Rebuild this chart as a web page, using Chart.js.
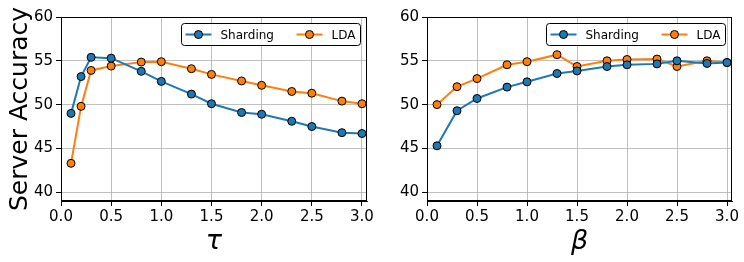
<!DOCTYPE html>
<html><head><meta charset="utf-8">
<script src="https://cdn.jsdelivr.net/npm/chart.js@4"></script>
<style>
html,body{margin:0;padding:0;background:#fff;width:744px;height:262px;overflow:hidden;position:relative}
.w{position:absolute;top:0;height:262px}
#a{left:0;width:379px}#b{left:372px;width:372px}
canvas{display:block}
</style></head><body>
<div class="w" id="a"><canvas id="c1" width="379" height="262"></canvas></div>
<div class="w" id="b"><canvas id="c2" width="372" height="262"></canvas></div>
<script>
const xTau=[0.1,0.2,0.3,0.5,0.8,1.0,1.3,1.5,1.8,2.0,2.3,2.5,2.8,3.0];
const shardingTau=[49.0,53.2,55.4,55.3,53.8,52.65,51.2,50.1,49.1,48.9,48.1,47.5,46.8,46.7];
const ldaTau=[43.3,49.8,53.9,54.4,54.85,54.9,54.1,53.45,52.7,52.2,51.5,51.3,50.4,50.1];
const xBeta=[0.1,0.3,0.5,0.8,1.0,1.3,1.5,1.8,2.0,2.3,2.5,2.8,3.0];
const shardingBeta=[45.3,49.3,50.7,52.0,52.6,53.55,53.85,54.35,54.55,54.65,55.0,54.7,54.8];
const ldaBeta=[50.0,52.05,52.97,54.55,54.9,55.7,54.35,55.0,55.15,55.2,54.35,55.0,54.8];
const xTicks=[0,0.5,1,1.5,2,2.5,3];
const yTicks=[40,45,50,55,60];
const seriesNames=['Sharding','LDA'];
const colors=['#1f77b4','#ff7f0e'];
const yTitle='Server Accuracy';

const FONT='DejaVu Sans';

const framePlugin={
  id:'frame',
  afterDatasetsDraw(chart){
    const a=chart.chartArea, c=chart.ctx;
    c.save();
    c.strokeStyle='#000';c.lineWidth=1;
    c.strokeRect(Math.round(a.left)+0.5,Math.round(a.top)+0.5,Math.round(a.right-a.left)-1,Math.round(a.bottom-a.top)-1);
    c.restore();
  }
};
const legendPlugin={
  id:'boxLegend',
  afterDraw(chart){
    const a=chart.chartArea, c=chart.ctx;
    const w=179,h=22;
    const l=Math.round(a.right-7-w)+0.5, t=Math.round(a.top+6)+0.5;
    c.save();
    c.beginPath();
    c.roundRect(l,t,w,h,3);
    c.fillStyle='rgba(255,255,255,0.85)';c.fill();
    c.strokeStyle='#000';c.lineWidth=1;c.stroke();
    const cy=t+11;
    const offs=[[4,39],[115,150]];
    chart.data.datasets.forEach((ds,i)=>{
      const x0=l+offs[i][0];
      c.beginPath();c.moveTo(x0,cy);c.lineTo(x0+26,cy);
      c.strokeStyle=ds.borderColor;c.lineWidth=2;c.stroke();
      c.beginPath();c.arc(x0+13,cy,4,0,Math.PI*2);
      c.fillStyle=ds.borderColor;c.fill();
      c.strokeStyle='#000';c.lineWidth=1;c.stroke();
      c.fillStyle='#000';c.font='12px "'+FONT+'"';c.textBaseline='middle';c.textAlign='left';
      c.fillText(ds.label,l+offs[i][1],cy+1);
    });
    c.restore();
  }
};

function makeChart(id,xs,s1,s2,xLabel,showY,padRight,yWidth){
  const sets=[s1,s2].map((ys,i)=>({
    label:seriesNames[i],
    data:xs.map((x,j)=>({x:x,y:ys[j]})),
    borderColor:colors[i],backgroundColor:colors[i],
    borderWidth:2,pointRadius:4,pointHoverRadius:4,
    pointBorderColor:'#000',pointBorderWidth:1,pointBackgroundColor:colors[i],
    tension:0,clip:false
  }));
  return new Chart(document.getElementById(id),{
    type:'line',
    data:{datasets:sets},
    options:{
      responsive:false,animation:false,devicePixelRatio:1,
      layout:{padding:{top:17,right:padRight,left:0,bottom:0}},
      plugins:{legend:{display:false},tooltip:{enabled:false}},
      scales:{
        x:{type:'linear',min:0,max:3.05,
          afterBuildTicks:s=>{s.ticks=xTicks.map(v=>({value:v}));},
          afterFit:s=>{s.height=61;},
          ticks:{callback:v=>Number(v).toFixed(1),font:{family:FONT,size:15},color:'#000',padding:2,maxRotation:0,autoSkip:false},
          grid:{color:'#b0b0b0',lineWidth:0.8,tickColor:'#000',tickLength:5,tickWidth:1},
          border:{color:'#000',width:1},
          title:{display:true,text:xLabel,font:{family:FONT,size:27,style:'italic'},color:'#000',padding:{top:0,bottom:4}}
        },
        y:{type:'linear',min:39,max:60,
          afterBuildTicks:s=>{s.ticks=yTicks.map(v=>({value:v}));},
          afterFit:s=>{s.width=yWidth;},
          ticks:{callback:v=>String(v),font:{family:FONT,size:15},color:'#000',padding:3,autoSkip:false},
          grid:{color:'#b0b0b0',lineWidth:0.8,tickColor:'#000',tickLength:5,tickWidth:1},
          border:{color:'#000',width:1},
          title:{display:showY,text:yTitle,font:{family:FONT,size:25},color:'#000',padding:{top:5,bottom:0}}
        }
      }
    },
    plugins:[framePlugin,legendPlugin]
  });
}
makeChart('c1',xTau,shardingTau,ldaTau,'τ',true,12,61);
makeChart('c2',xBeta,shardingBeta,ldaBeta,'β',false,12,55);
</script>
</body></html>
